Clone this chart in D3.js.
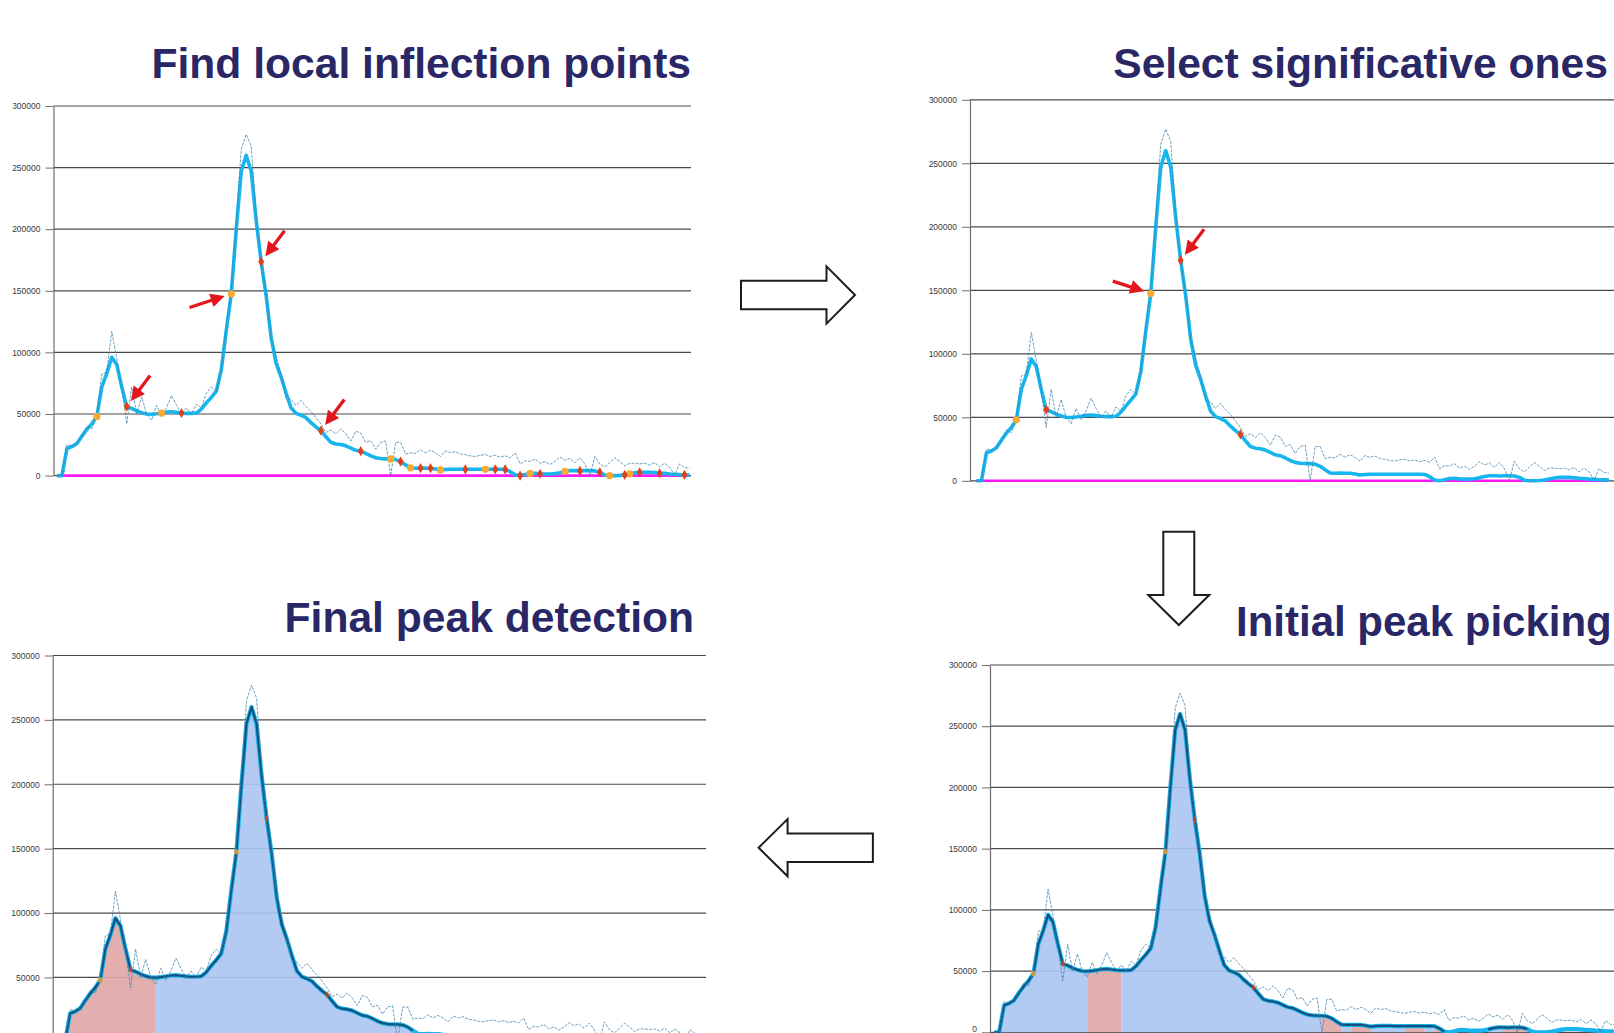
<!DOCTYPE html>
<html>
<head>
<meta charset="utf-8">
<script src="https://cdn.jsdelivr.net/npm/d3@7"></script>
<style>
  html, body { margin: 0; padding: 0; background: #ffffff; overflow: hidden; }
  svg { display: block; }
</style>
</head>
<body>
<svg id="slide" width="1614" height="1033"></svg>
<script>
// ---- Data -------------------------------------------------------------
// y-axis ticks shared by every chart
const yTicks = [0, 50000, 100000, 150000, 200000, 250000, 300000];

// raw chromatogram intensities (one value per scan)
const rawSignal = [
  0, 0, 25000, 24000, 26500, 32000, 40000, 38000, 49000, 82500,
  84000, 117000, 95000, 71000, 42000, 72000, 50000, 64000, 50000, 45000,
  57000, 48000, 55000, 65000, 57000, 50000, 55000, 50000, 58000, 55000,
  67000, 72000, 68000, 87000, 123000, 152000, 207000, 265000, 277000, 267000,
  212000, 172000, 148000, 112000, 96500, 82000, 63000, 62000, 57000, 61000,
  56000, 52000, 47000, 42000, 35000, 37000, 34000, 38000, 34000, 28000,
  36000, 34500, 27000, 28500, 21500, 27000, 28000, 0, 27000, 27000,
  17500, 18500, 18000, 21000, 18500, 20500, 18500, 15500, 20000, 18500,
  19500, 17500, 17000, 16000, 15500, 16500, 17000, 15500, 16500, 15000,
  16000, 14500, 18500, 9500, 12000, 11500, 13500, 10000, 11500, 9000,
  11500, 15000, 12500, 14000, 10500, 14500, 9500, 0, 15500, 9500,
  7000, 10500, 14500, 11500, 8000, 10000, 10000, 9500, 10000, 8500,
  10500, 7000, 10000, 7000, 500, 9500, 6500, 6000
];

// smoothed trace
const smoothSignal = [
  0, 0, 22000, 23500, 26000, 32000, 37500, 42000, 48000, 72000,
  83000, 96000, 90000, 72000, 56000, 54500, 52500, 51000, 50000, 49800,
  50200, 50800, 51500, 51800, 51300, 50800, 50500, 50500, 50800, 54000,
  59000, 63500, 68500, 86000, 118000, 147500, 200000, 247000, 260000, 247000,
  207000, 173500, 146000, 112000, 91000, 80000, 67000, 55000, 50500, 49000,
  47000, 43000, 39500, 36500, 31500, 27000, 25700, 25200, 24200, 22300,
  20500, 19800, 18000, 16000, 14500, 13800, 13600, 13500, 13000, 11400,
  8700, 6200, 6000, 6100, 6000, 6000, 5400, 4600, 5000, 5200,
  5200, 5200, 5100, 5100, 5100, 5100, 5100, 5100, 5100, 5100,
  5000, 3200, 600, 0, 800, 1800, 1900, 1500, 1300, 1300,
  1600, 2400, 3400, 4000, 4000, 3800, 4000, 4000, 3800, 2700,
  500, 0, 0, 200, 600, 1400, 2200, 2700, 2700, 2700,
  2400, 1900, 1800, 1300, 1100, 800, 700, 500
];

// inflection points of the smoothed trace (scan indices)
const risingInflections  = [8, 21, 35, 67, 71, 77, 86, 95, 102, 111, 115];
const fallingInflections = [14, 25, 41, 53, 61, 69, 73, 75, 82, 88, 90, 93, 97, 105, 109, 114, 117, 121, 126];

// inflection points kept as significant
const significantRising  = [8, 35];
const significantFalling = [14, 41, 53];

// peak windows [start, end, class]
const initialPeaks = [
  [0, 19, 'A'], [19, 26, 'B'], [26, 67, 'A'], [67, 71, 'B'], [71, 73, 'A'],
  [73, 77, 'B'], [77, 84, 'A'], [84, 88, 'B'], [88, 90, 'A'], [90, 92, 'B'],
  [101, 104, 'A'], [104, 109, 'B']
];
const finalPeaks = [[0, 19, 'B'], [19, 70, 'A']];

// step titles
const titles = ['Find local inflection points', 'Select significative ones', 'Initial peak picking', 'Final peak detection'];

// ---- Layout -------------------------------------------------------------
const N = rawSignal.length;
const YMAX = 300000;
const VIEW_H = 1033;
const FONT = "'Liberation Sans', Arial, Helvetica, sans-serif";
const COLORS = {
  grid: '#4a4a4a', axis: '#6e6e6e', tick: '#3a3a3a',
  raw: '#3f7fa8', smooth: '#17b5ee', outline: '#13527d',
  baseline: '#ff19ff', rising: '#f9a833', falling: '#e0401a',
  callout: '#e3161b', A: '#adc5f1', B: '#e0a7a7', title: '#2a2766'
};

const NE = [0.6, -0.8], SW = [-0.95, 0.31], NW = [-0.95, -0.31];

const panels = [
  { x0: 57, step: 4.98, axisX: 53.5, right: 691, top: 106, zero: 475.6,
    baseline: true, rising: risingInflections, falling: fallingInflections, dotScale: 1,
    callouts: [[14, NE, 32], [35, SW, 37], [41, NE, 32], [53, NE, 32]], regions: null },
  { x0: 976.5, step: 4.98, axisX: 970, right: 1620, top: 99.8, zero: 480.8,
    baseline: true, rising: significantRising, falling: significantFalling, dotScale: 1,
    callouts: [[35, NW, 33], [41, NE, 32]], regions: null },
  { x0: 60, step: 5.04, axisX: 52.7, right: 706, top: 655.5, zero: 1041.8,
    baseline: false, rising: significantRising, falling: significantFalling, dotScale: 0.75,
    callouts: [], regions: finalPeaks },
  { x0: 994.3, step: 4.89, axisX: 990, right: 1620, top: 665, zero: 1032.3,
    baseline: false, rising: significantRising, falling: significantFalling, dotScale: 0.75,
    callouts: [], regions: initialPeaks }
];

const svg = d3.select('#slide');

panels.forEach(drawPanel);

function drawPanel(p) {
  const g = svg.append('g');
  const x = d3.scaleLinear().domain([0, N - 1]).range([p.x0, p.x0 + p.step * (N - 1)]);
  const y = d3.scaleLinear().domain([0, YMAX]).range([p.zero, p.top]);
  const idx = d3.range(N);

  // horizontal grid
  g.append('g').selectAll('line').data(yTicks).join('line')
    .attr('x1', p.axisX).attr('x2', p.right)
    .attr('y1', d => y(d)).attr('y2', d => y(d))
    .attr('stroke', COLORS.grid).attr('stroke-width', 1.2);

  // y axis: only ticks that fall inside the slide get a label
  const shownTicks = yTicks.filter(t => y(t) <= VIEW_H + 2);
  const axis = d3.axisLeft(y).tickValues(shownTicks).tickSize(8).tickSizeOuter(0)
    .tickPadding(5).tickFormat(d3.format('d'));
  const ag = g.append('g').attr('transform', `translate(${p.axisX},0)`).call(axis);
  ag.select('.domain').attr('stroke', COLORS.axis).attr('stroke-width', 1.2);
  ag.selectAll('.tick line').attr('stroke', COLORS.axis);
  ag.selectAll('.tick text').attr('font-family', FONT).attr('font-size', 8.5)
    .attr('fill', COLORS.tick)
    // keep a label sitting on the bottom edge readable
    .attr('y', t => Math.min(0, VIEW_H - 4 - y(t)));

  // peak windows
  if (p.regions) {
    const area = d3.area().x(i => x(i)).y0(y(0)).y1(i => y(smoothSignal[i]));
    g.append('g').selectAll('path').data(p.regions).join('path')
      .attr('d', r => area(d3.range(r[0], r[1] + 1)))
      .attr('fill', r => COLORS[r[2]]).attr('fill-opacity', 0.92);
  }

  // zero baseline
  if (p.baseline) {
    g.append('line')
      .attr('x1', x(0)).attr('x2', x(N - 1))
      .attr('y1', y(0)).attr('y2', y(0))
      .attr('stroke', COLORS.baseline).attr('stroke-width', 2.6);
  }

  // smoothed trace
  const line = d3.line().x(i => x(i)).y(i => y(smoothSignal[i]));
  g.append('path').attr('d', line(idx))
    .attr('fill', 'none').attr('stroke', COLORS.smooth)
    .attr('stroke-width', p.regions ? 4.2 : 3.6)
    .attr('stroke-linejoin', 'round');

  // outline of each picked peak
  if (p.regions) {
    g.append('g').selectAll('path').data(p.regions).join('path')
      .attr('d', r => line(d3.range(r[0], r[1] + 1)))
      .attr('fill', 'none').attr('stroke', COLORS.outline)
      .attr('stroke-width', 2.2).attr('stroke-linejoin', 'round');
  }

  // raw trace
  const rawLine = d3.line().x(i => x(i)).y(i => y(rawSignal[i]));
  g.append('path').attr('d', rawLine(idx))
    .attr('fill', 'none').attr('stroke', COLORS.raw)
    .attr('stroke-width', 0.9).attr('stroke-dasharray', '3,1.2')
    .attr('stroke-opacity', 0.85);

  // inflection points
  const s = p.dotScale;
  const dotOpacity = p.regions ? 0.75 : 1;
  g.append('g').selectAll('circle').data(p.rising).join('circle')
    .attr('cx', i => x(i)).attr('cy', i => y(smoothSignal[i]))
    .attr('r', 3.6 * s).attr('fill', COLORS.rising).attr('opacity', dotOpacity);
  const diamond = d3.symbol(d3.symbolDiamond, 30 * s * s);
  g.append('g').selectAll('path').data(p.falling).join('path')
    .attr('transform', i => `translate(${x(i)},${y(smoothSignal[i])})`)
    .attr('d', diamond).attr('fill', COLORS.falling).attr('opacity', dotOpacity);

  // red callout arrows
  p.callouts.forEach(([i, u, len]) => {
    const px = x(i), py = y(smoothSignal[i]);
    const gap = 7, head = 14, half = 7;
    const tip = [px + u[0] * gap, py + u[1] * gap];
    const tail = [tip[0] + u[0] * len, tip[1] + u[1] * len];
    const base = [tip[0] + u[0] * head, tip[1] + u[1] * head];
    const n = [-u[1], u[0]];
    g.append('line')
      .attr('x1', tail[0]).attr('y1', tail[1])
      .attr('x2', tip[0] + u[0] * (head - 2)).attr('y2', tip[1] + u[1] * (head - 2))
      .attr('stroke', COLORS.callout).attr('stroke-width', 3.3);
    g.append('path')
      .attr('d', `M${tip[0]},${tip[1]}L${base[0] + n[0] * half},${base[1] + n[1] * half}` +
                 `L${base[0] - n[0] * half},${base[1] - n[1] * half}Z`)
      .attr('fill', COLORS.callout);
  });
}

// ---- Titles -------------------------------------------------------------
const titleSpecs = [
  { text: titles[0], x: 691, y: 78, anchor: 'end', size: 42.6 },
  { text: titles[1], x: 1608, y: 78, anchor: 'end', size: 42.6 },
  { text: titles[2], x: 1236, y: 636, anchor: 'start', size: 42 },
  { text: titles[3], x: 694, y: 632, anchor: 'end', size: 42.6 }
];
svg.append('g').selectAll('text').data(titleSpecs).join('text')
  .attr('x', d => d.x).attr('y', d => d.y)
  .attr('text-anchor', d => d.anchor)
  .attr('font-family', FONT).attr('font-weight', 'bold').attr('font-size', d => d.size)
  .attr('fill', COLORS.title)
  .text(d => d.text);

// ---- Hollow flow arrows between steps ------------------------------------
// shape drawn pointing right from (0,0) to (len,0), then rotated into place
function blockArrow(len, bodyHalf, headHalf, headLen) {
  const b = len - headLen;
  return `M0,${-bodyHalf}L${b},${-bodyHalf}L${b},${-headHalf}L${len},0` +
         `L${b},${headHalf}L${b},${bodyHalf}L0,${bodyHalf}Z`;
}
const flowArrows = [
  { x: 741, y: 295, len: 114, body: 14.2, head: 28.6, headLen: 28.5, angle: 0 },
  { x: 1178.8, y: 531.7, len: 93.3, body: 15.5, head: 30.5, headLen: 30, angle: 90 },
  { x: 872.9, y: 847.7, len: 114.3, body: 14.2, head: 28.6, headLen: 29, angle: 180 }
];
svg.append('g').selectAll('path').data(flowArrows).join('path')
  .attr('transform', d => `translate(${d.x},${d.y}) rotate(${d.angle})`)
  .attr('d', d => blockArrow(d.len, d.body, d.head, d.headLen))
  .attr('fill', '#ffffff').attr('stroke', '#1c1c1c').attr('stroke-width', 2)
  .attr('stroke-linejoin', 'miter');
</script>
</body>
</html>
